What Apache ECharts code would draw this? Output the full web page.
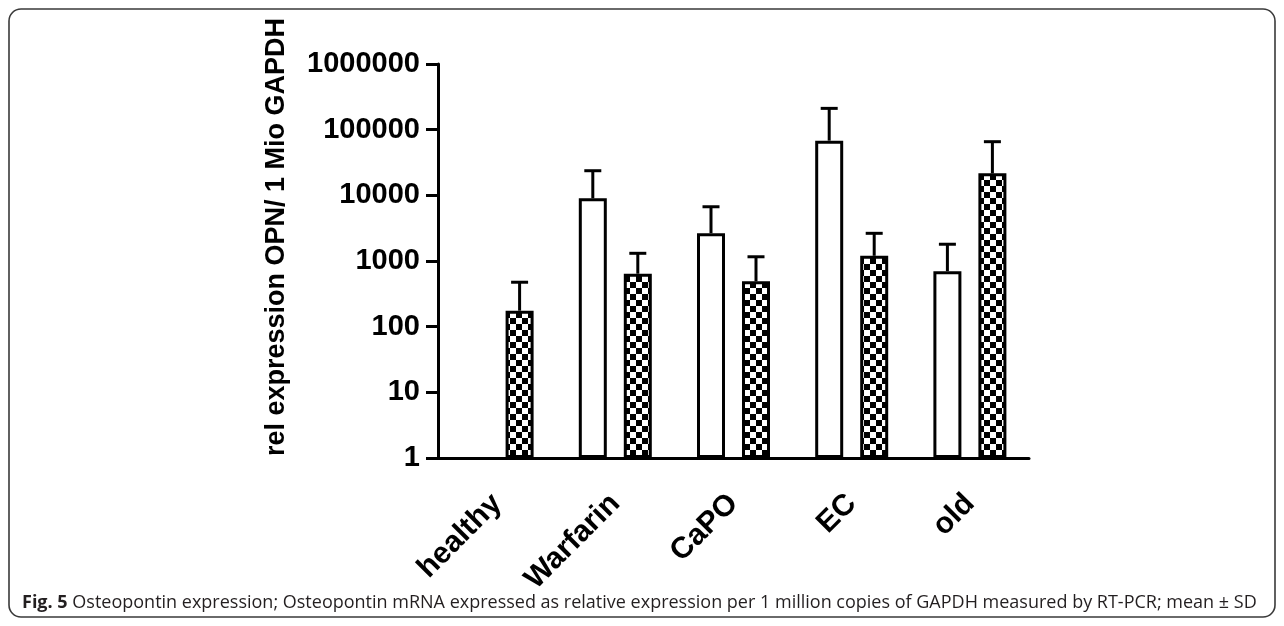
<!DOCTYPE html>
<html>
<head>
<meta charset="utf-8">
<title>Osteopontin expression</title>
<script src="https://cdn.jsdelivr.net/npm/echarts@6/dist/echarts.min.js"></script>
<style>
  html, body { margin: 0; padding: 0; background: #fff; }
  #chart { width: 1284px; height: 626px; }
</style>
</head>
<body>
<div id="chart"></div>
<script>
// Groups on the x axis
const categories = ['healthy', 'Warfarin', 'CaPO', 'EC', 'old'];
// Open (white) bars: mean and SD per group (no value for healthy)
const openMean = [null, 9000, 2650, 68000, 700];
const openSD = [null, 14700, 4050, 143000, 1100];
// Checkered bars: mean and SD per group
const checkMean = [175, 640, 490, 1200, 21600];
const checkSD = [300, 670, 670, 1440, 44000];
// Decade labels of the log axis
const yTickLabels = ['1', '10', '100', '1000', '10000', '100000', '1000000'];

const FONT = '"Liberation Sans", Arial, sans-serif';
const BAR_W = 28;
const BAR_GAP_PX = 17;
const SHIFT = (BAR_W + BAR_GAP_PX) / 2;

function checkerCanvas(cell) {
  const c = document.createElement('canvas');
  c.width = c.height = cell * 2;
  const g = c.getContext('2d');
  g.fillStyle = '#fff';
  g.fillRect(0, 0, cell * 2, cell * 2);
  g.fillStyle = '#000';
  g.fillRect(0, 0, cell, cell);
  g.fillRect(cell, cell, cell, cell);
  return c;
}

function errorData(means, sds) {
  const out = [];
  means.forEach(function (m, i) {
    if (m != null && sds[i] != null) out.push([i, m, m + sds[i]]);
  });
  return out;
}

function errorBars(shift) {
  return function (params, api) {
    const i = api.value(0);
    const lo = api.coord([i, api.value(1)]);
    const hi = api.coord([i, api.value(2)]);
    const x = lo[0] + shift;
    const style = { stroke: '#000', lineWidth: 3 };
    return {
      type: 'group',
      children: [
        { type: 'line', shape: { x1: x, y1: lo[1], x2: x, y2: hi[1] }, style: style },
        { type: 'line', shape: { x1: x - 8.5, y1: hi[1], x2: x + 8.5, y2: hi[1] }, style: style }
      ]
    };
  };
}

const chart = echarts.init(document.getElementById('chart'));

chart.setOption({
  backgroundColor: '#fff',
  animation: false,
  grid: { left: 438, right: 255, top: 64, bottom: 168, containLabel: false },
  xAxis: {
    type: 'category',
    data: categories,
    axisLine: { lineStyle: { color: '#000', width: 3 } },
    axisTick: { alignWithLabel: true, length: 12, lineStyle: { color: '#000', width: 3 } },
    axisLabel: {
      rotate: 45, margin: 41, color: '#000',
      fontFamily: FONT, fontWeight: 'bold', fontSize: 30
    },
    splitLine: { show: false }
  },
  yAxis: {
    type: 'log',
    logBase: 10,
    min: 1,
    max: 1000000,
    splitNumber: 6,
    axisLine: { show: true, lineStyle: { color: '#000', width: 3 } },
    axisTick: { show: true, length: 12, lineStyle: { color: '#000', width: 3 } },
    minorTick: { show: false },
    splitLine: { show: false },
    axisLabel: {
      margin: 18, color: '#000',
      fontFamily: FONT, fontWeight: 'bold', fontSize: 29,
      formatter: function (v) {
        const k = Math.round(Math.log10(v));
        return yTickLabels[k] !== undefined ? yTickLabels[k] : String(Math.round(v));
      }
    }
  },
  series: [
    {
      name: 'open',
      type: 'bar',
      data: openMean,
      barWidth: BAR_W,
      barGap: (BAR_GAP_PX / BAR_W * 100).toFixed(1) + '%',
      itemStyle: { color: '#fff', borderColor: '#000', borderWidth: 3 }
    },
    {
      name: 'checkered',
      type: 'bar',
      data: checkMean,
      barWidth: BAR_W,
      itemStyle: {
        color: { image: checkerCanvas(6), repeat: 'repeat' },
        borderColor: '#000', borderWidth: 3
      }
    },
    {
      name: 'open SD',
      type: 'custom',
      data: errorData(openMean, openSD),
      encode: { x: 0, y: [1, 2] },
      renderItem: errorBars(-SHIFT),
      z: 3
    },
    {
      name: 'checkered SD',
      type: 'custom',
      data: errorData(checkMean, checkSD),
      encode: { x: 0, y: [1, 2] },
      renderItem: errorBars(SHIFT),
      z: 3
    }
  ],
  graphic: [
    {
      type: 'rect',
      shape: { x: 9, y: 9, width: 1266, height: 608, r: 12 },
      style: { fill: 'none', stroke: '#3a3a3a', lineWidth: 1.6 },
      silent: true
    },
    {
      type: 'text',
      x: 277, y: 237,
      rotation: Math.PI / 2,
      style: {
        text: 'rel expression OPN/ 1 Mio GAPDH',
        font: 'bold 27px ' + FONT,
        fill: '#000',
        textAlign: 'center',
        textVerticalAlign: 'middle'
      }
    },
    {
      type: 'text',
      x: 22, y: 603,
      style: {
        text: '{b|Fig. 5} Osteopontin expression; Osteopontin mRNA expressed as relative expression per 1 million copies of GAPDH measured by RT-PCR; mean ± SD',
        fontFamily: '"Open Sans", sans-serif',
        fontSize: 18,
        fill: '#231f20',
        textVerticalAlign: 'middle',
        rich: { b: { fontWeight: 'bold', fontFamily: '"Open Sans", sans-serif', fontSize: 18, fill: '#231f20' } }
      }
    }
  ]
});
</script>
</body>
</html>
